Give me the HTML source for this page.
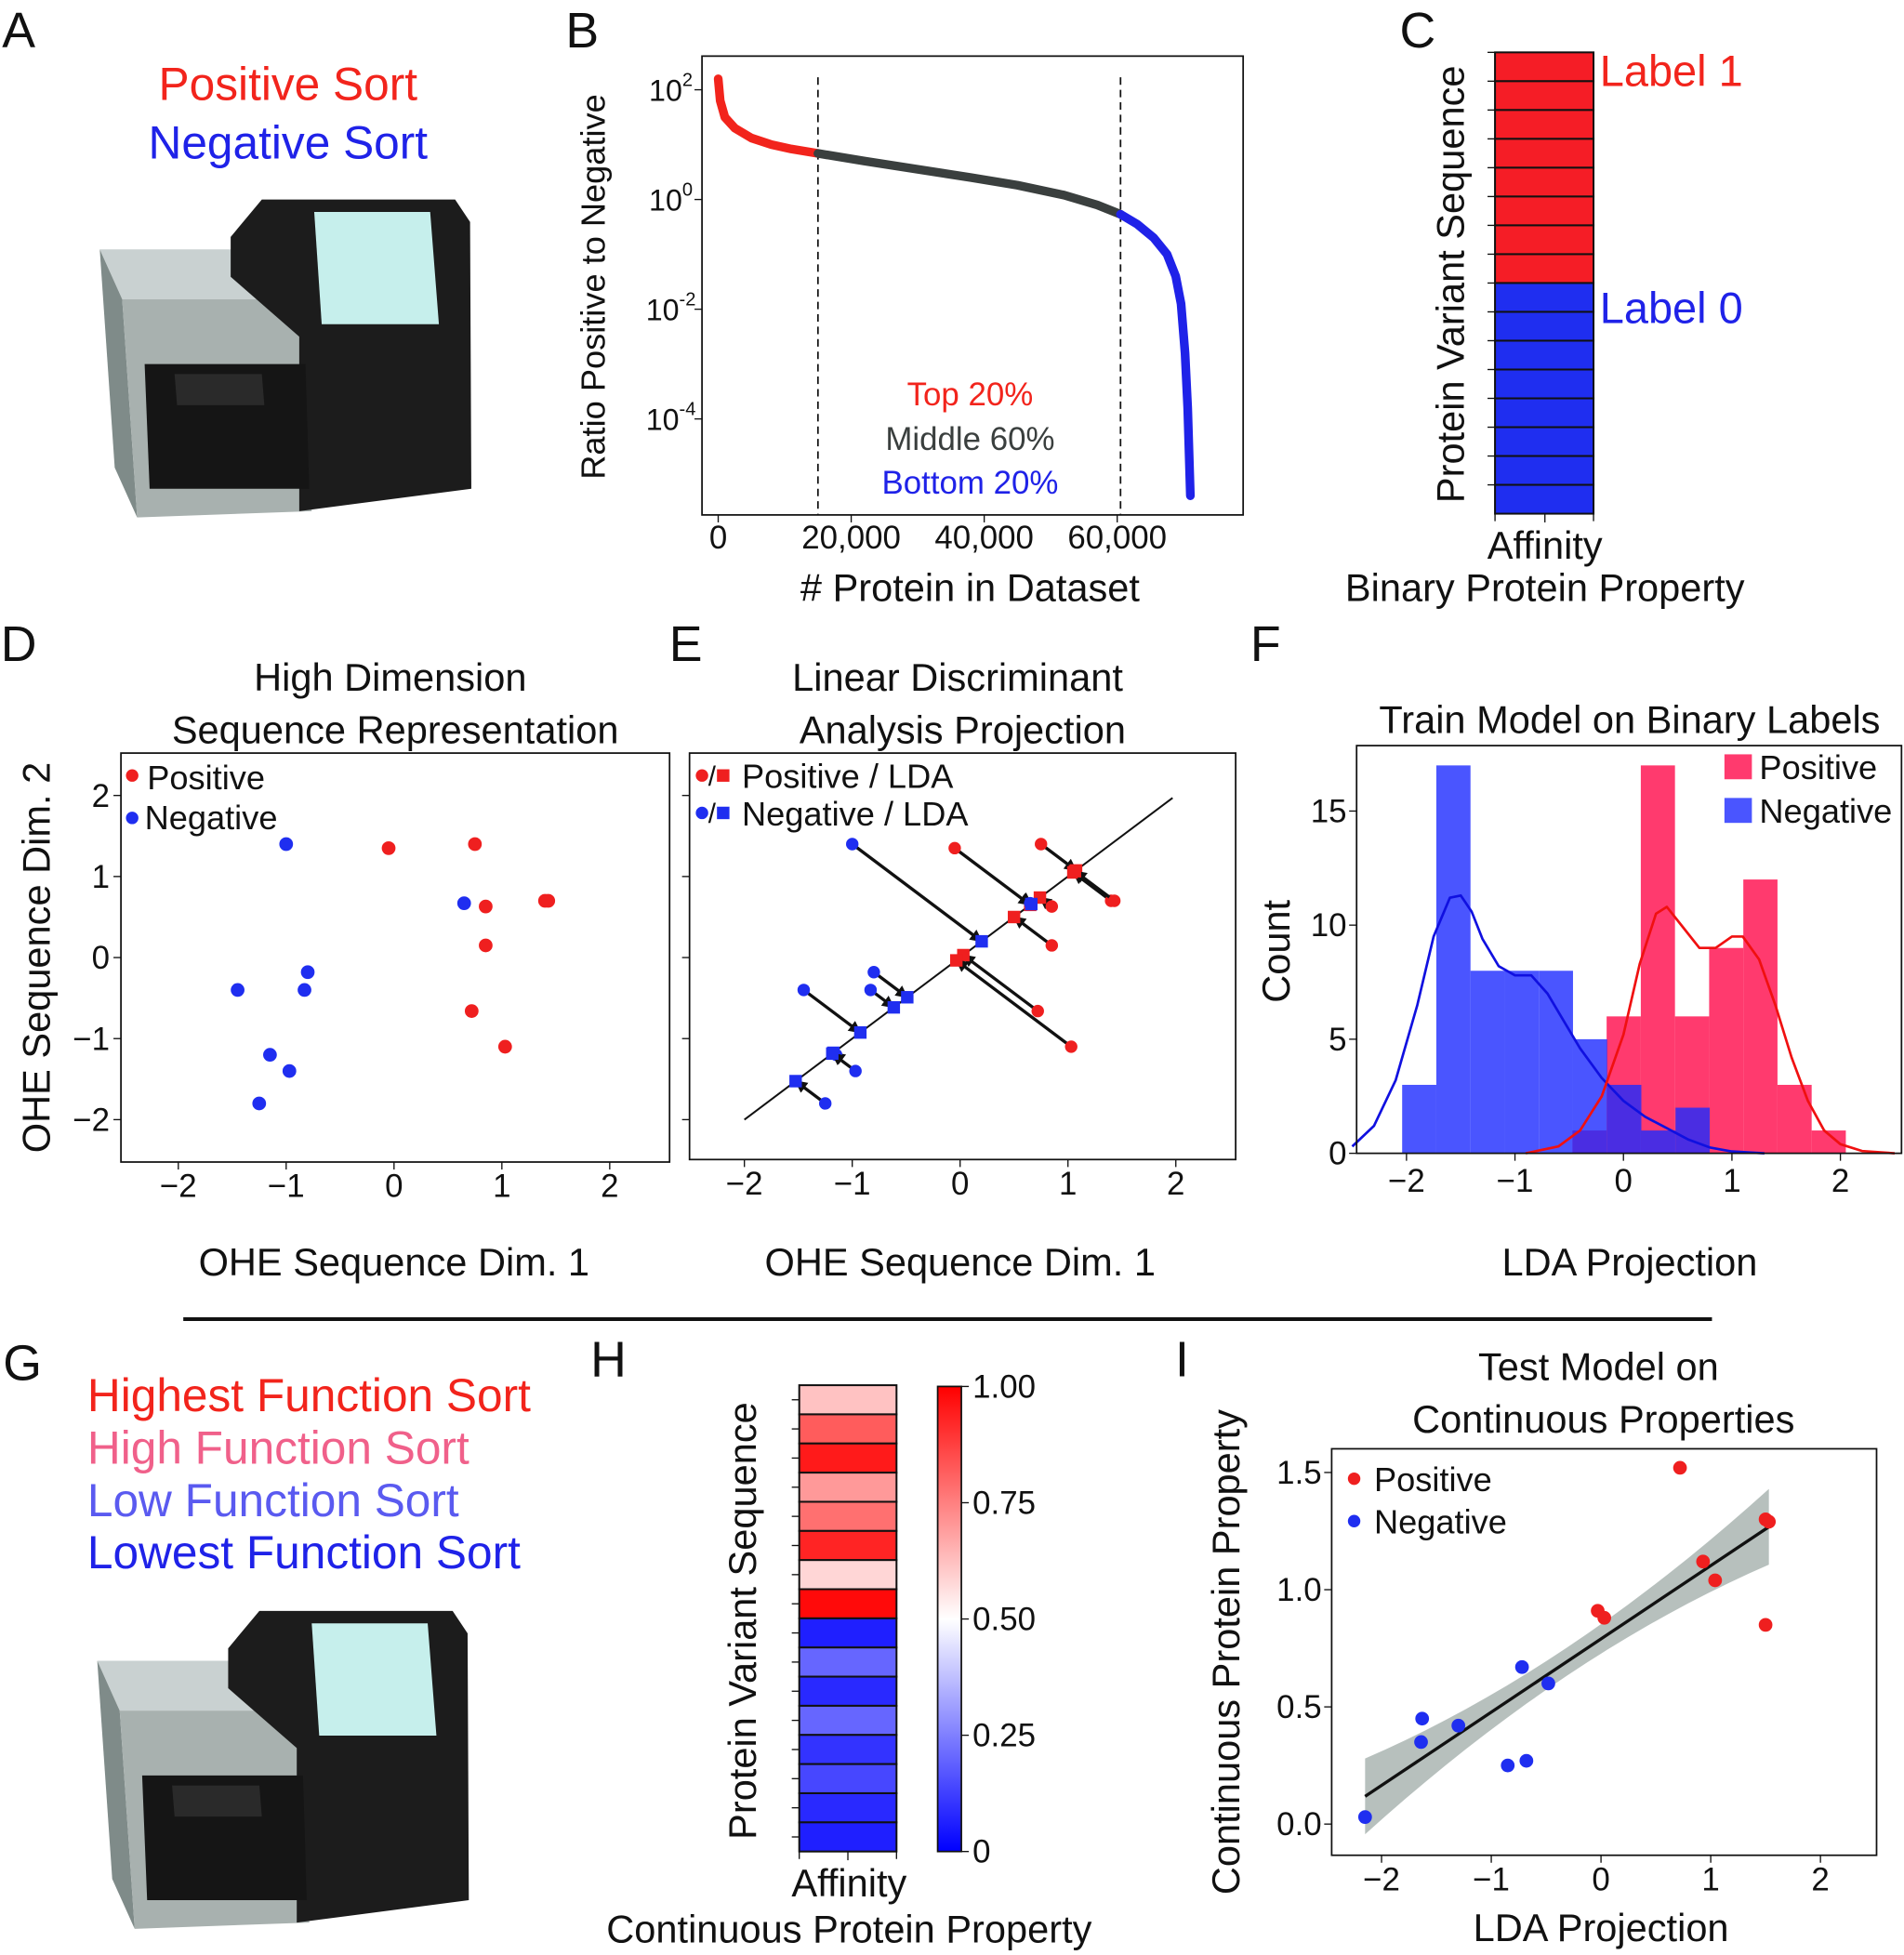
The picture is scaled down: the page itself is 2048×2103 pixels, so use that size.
<!DOCTYPE html>
<html><head><meta charset="utf-8"><style>
html,body{margin:0;padding:0;background:#fff;}
svg{display:block;}
text{font-family:"Liberation Sans Narrow","Liberation Sans",sans-serif;}
.wide{font-family:"Liberation Sans","DejaVu Sans",sans-serif;}
</style></head><body>
<svg id="fig" width="2048" height="2103" viewBox="0 0 1527 1568" preserveAspectRatio="none" xmlns="http://www.w3.org/2000/svg">
<g id="machineA"></g>
<g id="machineG"></g>
<g id="root"></g>
</svg>
<script>
// ---- Panel B data: rank vs log10 ratio ----
const bRank=[0,300,1000,2500,5000,8000,11000,15000,22000,30000,38000,45000,52000,57000,60500,63000,65500,67500,68800,69600,70200,70600,71000];
const bLog=[2.2,1.8,1.5,1.3,1.12,1.0,0.92,0.84,0.7,0.55,0.4,0.26,0.08,-0.1,-0.27,-0.45,-0.7,-1.0,-1.4,-1.9,-2.8,-3.8,-5.4];
const bTickX=[0,20000,40000,60000]; const bTickXLab=["0","20,000","40,000","60,000"];
const bTickY=[2,0,-2,-4];
const bCut=[15000,60500];
// ---- Panel C ----
const cLabels=[1,1,1,1,1,1,1,1,0,0,0,0,0,0,0,0];
// ---- Panel D/E points ----
const posX=[-0.05,0.75,0.85,1.4,1.43,0.85,0.72,1.03];
const posY=[1.35,1.4,0.63,0.7,0.7,0.15,-0.66,-1.1];
const negX=[-1.0,0.65,-0.8,-1.45,-0.83,-1.15,-0.97,-1.25];
const negY=[1.4,0.67,-0.18,-0.4,-0.4,-1.2,-1.4,-1.8];
const dTicks=[-2,-1,0,1,2];
// ---- Panel F histogram ----
const fBinW=0.315;
const negBinStart=-2.04; const negCounts=[3,17,8,8,8,5,3,1,2];
const posBinStart=-0.47; const posCounts=[1,6,17,6,9,12,3,1];
const negKdeX=[-2.5,-2.3,-2.1,-1.9,-1.75,-1.6,-1.5,-1.4,-1.3,-1.15,-1.0,-0.85,-0.7,-0.55,-0.4,-0.2,0,0.2,0.4,0.6,0.8,1.0,1.3];
const negKdeY=[0.3,1.2,3.2,6.5,9.5,11.2,11.3,10.6,9.4,8.2,7.8,7.8,7.0,5.8,4.6,3.3,2.3,1.6,1.1,0.6,0.25,0.08,0];
const posKdeX=[-0.9,-0.6,-0.4,-0.2,0,0.15,0.3,0.4,0.55,0.7,0.85,1.0,1.1,1.25,1.4,1.55,1.7,1.85,2.0,2.2,2.5];
const posKdeY=[0,0.3,1.0,2.5,5.2,8.3,10.5,10.8,9.9,9.0,9.0,9.5,9.5,8.5,6.5,4.2,2.3,1.0,0.4,0.1,0];
const fTicksY=[0,5,10,15];
// ---- Panel H heatmap ----
const hValues=[0.62,0.82,0.95,0.7,0.78,0.93,0.58,0.98,0.06,0.2,0.08,0.2,0.1,0.14,0.08,0.06];
const hTicks=[1,0.75,0.5,0.25,0]; const hTickLab=["1.00","0.75","0.50","0.25","0"];
// ---- Panel I ----
const iPosX=[0.72,1.5,1.53,0.93,1.04,-0.03,0.03,1.5];
const iPosY=[1.52,1.3,1.29,1.12,1.04,0.91,0.88,0.85];
const iNegX=[-0.72,-0.48,-1.63,-1.3,-1.64,-0.85,-0.68,-2.15];
const iNegY=[0.67,0.6,0.45,0.42,0.35,0.25,0.27,0.03];
const iFit=[0.3125,0.79]; const iXRange=[-2.15,1.53];
const iTicksY=[0,0.5,1,1.5]; const iTickYLab=["0.0","0.5","1.0","1.5"];

const NS="http://www.w3.org/2000/svg";
const root=document.getElementById('root');
function mk(tag,attrs,parent,txt){const e=document.createElementNS(NS,tag);for(const k in attrs)e.setAttribute(k,attrs[k]);if(txt!==undefined)e.textContent=txt;(parent||root).appendChild(e);return e;}
function lin(d0,d1,r0,r1){return v=>r0+(v-d0)*(r1-r0)/(d1-d0);}
function T(x,y,s,size,fill,anchor,cls,rot){const a={x:x,y:y,'font-size':size,fill:fill||'#111','text-anchor':anchor||'middle'};if(cls)a['class']=cls;if(rot)a.transform='rotate(-90 '+x+' '+y+')';return mk('text',a,root,s);}
function box(x0,y0,x1,y1){const r=mk('rect',{x:x0,y:y0,width:x1-x0,height:y1-y0,fill:'none',stroke:'#111','stroke-width':1.3});}

// panel letters
[["A",15,38],["B",467,38],["C",1137,38],["D",15,530],["E",550,530],["F",1015,530],["G",18,1107],["H",488,1104],["I",948,1104]].forEach(p=>{const t=T(p[1],p[2],p[0],40,'#111','middle');});

// machine
function machine(g,ox,oy){
 const P=(pts,fill)=>{const e=document.createElementNS(NS,'polygon');e.setAttribute('points',pts.map(p=>(p[0]+ox)+','+(p[1]+oy)).join(' '));e.setAttribute('fill',fill);g.appendChild(e);};
 P([[0,40],[150,40],[165,80],[18,80]],'#c9d1d1');
 P([[0,40],[18,80],[30,255],[12,215]],'#7f8b89');
 P([[18,80],[165,80],[170,250],[30,255]],'#a8b1af');
 P([[105,30],[130,0],[285,0],[297,18],[298,232],[160,250],[160,110],[105,62]],'#1c1c1c');
 P([[172,10],[265,10],[272,100],[178,100]],'#c6efec');
 P([[36,132],[165,132],[168,232],[40,232]],'#151515');
 P([[60,140],[130,140],[132,165],[62,165]],'#2a2a2a');
}
machine(document.getElementById('machineA'),80,160);
machine(document.getElementById('machineG'),78,1292);
let t;
t=T(231,80,"Positive Sort",37,'#f2241c');
t=T(231,127,"Negative Sort",37,'#1f22e8');

// ---- Panel B ----
const bx=lin(0,60000,576,896), by=lin(0,2,160,72);
box(563,45,997,413);
bTickX.forEach((v,i)=>{mk('line',{x1:bx(v),x2:bx(v),y1:413,y2:419,stroke:'#111'});t=T(bx(v),440,bTickXLab[i],26);});
bTickY.forEach(v=>{mk('line',{x1:557,x2:563,y1:by(v),y2:by(v),stroke:'#111'});const tt=mk('text',{x:538,y:by(v)+9,'font-size':24,'text-anchor':'middle',fill:'#111'},root,'10');const ts=mk('tspan',{dy:-12,'font-size':15},tt,String(v));});
bCut.forEach(v=>{const l=mk('line',{x1:bx(v),x2:bx(v),y1:62,y2:413,stroke:'#111','stroke-width':1.3,'stroke-dasharray':'6,4'});});
function seg(filter,col,name){const pts=[];bRank.forEach((r,i)=>{if(filter(r))pts.push(bx(r)+','+by(bLog[i]));});const p=mk('polyline',{points:pts.join(' '),fill:'none',stroke:col,'stroke-width':7,'stroke-linejoin':'round','stroke-linecap':'round'});}
seg(r=>r<=bCut[0],'#f2241c','b-top-segment');
seg(r=>r>=bCut[0]&&r<=bCut[1],'#3a3f3e','b-middle-segment');
seg(r=>r>=bCut[1],'#1f22e8','b-bottom-segment');
T(778,325,"Top 20%",26,'#f2241c');T(778,361,"Middle 60%",26,'#3a3f3e');T(778,396,"Bottom 20%",26,'#1f22e8');
t=T(485,230,"Ratio Positive to Negative",27,'#111','middle','wide',true);
t=T(778,482,"# Protein in Dataset",31);

// ---- Panel C ----
const cy0=42,cy1=412,rh=(cy1-cy0)/cLabels.length;
cLabels.forEach((v,i)=>{const r=mk('rect',{x:1199,y:cy0+i*rh,width:79,height:rh,fill:v?'#f51d26':'#1f2ef0',stroke:'#111','stroke-width':1.5});mk('line',{x1:1193,x2:1199,y1:cy0+i*rh,y2:cy0+i*rh,stroke:'#111'});});
mk('line',{x1:1199,x2:1199,y1:cy0,y2:cy1+6,stroke:'#111'});mk('line',{x1:1278,x2:1278,y1:cy0,y2:cy1+6,stroke:'#111'});mk('line',{x1:1239,x2:1239,y1:cy1,y2:cy1+7,stroke:'#111'});
T(1283,69,"Label 1",35,'#f2241c','start');T(1283,259,"Label 0",35,'#1f22e8','start');
t=T(1174,228,"Protein Variant Sequence",31,'#111','middle','wide',true);
T(1239,448,"Affinity",31);T(1239,482,"Binary Protein Property",31);

// ---- Panel D ----
const dx=lin(0,1,316,402.5), dy=lin(0,1,768,703);
box(97,604,537,932);
dTicks.forEach(v=>{mk('line',{x1:dx(v),x2:dx(v),y1:932,y2:938,stroke:'#111'});T(dx(v),960,String(v).replace('-','\u2212'),26);mk('line',{x1:91,x2:97,y1:dy(v),y2:dy(v),stroke:'#111'});T(88,dy(v)+9,String(v).replace('-','\u2212'),26,'#111','end');});
posX.forEach((v,i)=>{const c=mk('circle',{cx:dx(v),cy:dy(posY[i]),r:5.5,fill:'#ef1f1f'});});
negX.forEach((v,i)=>{const c=mk('circle',{cx:dx(v),cy:dy(negY[i]),r:5.5,fill:'#1f2ef0'});});
mk('circle',{cx:106,cy:622,r:5,fill:'#ef1f1f'});T(118,633,"Positive",27,'#111','start');
mk('circle',{cx:106,cy:656,r:5,fill:'#1f2ef0'});T(116,665,"Negative",27,'#111','start');
T(313,554,"High Dimension",31);T(317,596,"Sequence Representation",31);
t=T(40,768,"OHE Sequence Dim. 2",31,'#111','middle','wide',true);
T(316,1023,"OHE Sequence Dim. 1",31);

// ---- Panel E ----
const ex=lin(0,1,770,856.5), ey=lin(0,1,768,703);
box(553,604,991,930);
dTicks.forEach(v=>{mk('line',{x1:ex(v),x2:ex(v),y1:930,y2:936,stroke:'#111'});T(ex(v),958,String(v).replace('-','\u2212'),26);mk('line',{x1:547,x2:553,y1:ey(v),y2:ey(v),stroke:'#111'});});
mk('defs',{},root).innerHTML='<marker id="ah" viewBox="0 0 10 10" refX="9" refY="5" markerWidth="4" markerHeight="4" orient="auto"><path d="M0,0 L10,5 L0,10 z" fill="#111"/></marker>';
const ld=mk('line',{x1:ex(-2),y1:ey(-2),x2:ex(1.97),y2:ey(1.97),stroke:'#111','stroke-width':1.5});
function eSet(X,Y,col,nm){X.forEach((v,i)=>{const p=(v+Y[i])/2;const a=mk('line',{x1:ex(v),y1:ey(Y[i]),x2:ex(p),y2:ey(p),stroke:'#111','stroke-width':2.5,'marker-end':'url(#ah)'});const c=mk('circle',{cx:ex(v),cy:ey(Y[i]),r:5,fill:col});const s=mk('rect',{x:ex(p)-5,y:ey(p)-5,width:10,height:10,fill:col});});}
eSet(posX,posY,'#ef1f1f','positive');eSet(negX,negY,'#1f2ef0','negative');
mk('circle',{cx:563,cy:622,r:5,fill:'#ef1f1f'});T(568,630,"/",22,'#111','start');mk('rect',{x:575,y:617,width:10,height:10,fill:'#ef1f1f'});T(595,632,"Positive / LDA",27,'#111','start');
mk('circle',{cx:563,cy:652,r:5,fill:'#1f2ef0'});T(568,660,"/",22,'#111','start');mk('rect',{x:575,y:647,width:10,height:10,fill:'#1f2ef0'});T(595,662,"Negative / LDA",27,'#111','start');
T(768,554,"Linear Discriminant",31);T(772,596,"Analysis Projection",31);T(770,1023,"OHE Sequence Dim. 1",31);

// ---- Panel F ----
const fx=lin(0,1,1302,1389), fy=lin(0,1,925,906.7);
posCounts.forEach((c,i)=>{const x0=posBinStart+i*fBinW;const r=mk('rect',{x:fx(x0),y:fy(c),width:fx(x0+fBinW)-fx(x0),height:fy(0)-fy(c),fill:'rgb(255,9,74)','fill-opacity':0.8});});
negCounts.forEach((c,i)=>{const x0=negBinStart+i*fBinW;const r=mk('rect',{x:fx(x0),y:fy(c),width:fx(x0+fBinW)-fx(x0),height:fy(0)-fy(c),fill:'rgb(29,42,255)','fill-opacity':0.8});});
function curve(X,Y,col,nm){const p=mk('polyline',{points:X.map((v,i)=>fx(v)+','+fy(Y[i])).join(' '),fill:'none',stroke:col,'stroke-width':2,'stroke-linejoin':'round'});}
curve(negKdeX,negKdeY,'#1010e0','f-negative-kde');curve(posKdeX,posKdeY,'#f01010','f-positive-kde');
box(1088,598,1525,925);
dTicks.forEach(v=>{mk('line',{x1:fx(v),x2:fx(v),y1:925,y2:931,stroke:'#111'});T(fx(v),956,String(v).replace('-','\u2212'),26);});
fTicksY.forEach(v=>{mk('line',{x1:1082,x2:1088,y1:fy(v),y2:fy(v),stroke:'#111'});T(1080,fy(v)+9,String(v),26,'#111','end');});
mk('rect',{x:1383,y:605,width:22,height:20,fill:'rgb(255,9,74)','fill-opacity':0.8});T(1411,625,"Positive",27,'#111','start');
mk('rect',{x:1383,y:640,width:22,height:20,fill:'rgb(29,42,255)','fill-opacity':0.8});T(1411,660,"Negative",27,'#111','start');
T(1307,588,"Train Model on Binary Labels",31);
t=T(1034,763,"Count",31,'#111','middle','wide',true);
T(1307,1023,"LDA Projection",31);

// separator
mk('line',{x1:147,x2:1373,y1:1058,y2:1058,stroke:'#111','stroke-width':3});

// ---- Panel G ----
T(70,1132,"Highest Function Sort",37,'#f2241c','start');T(70,1174,"High Function Sort",37,'#f0608a','start');T(70,1216,"Low Function Sort",37,'#5a5af0','start');T(70,1258,"Lowest Function Sort",37,'#1f22e8','start');

// ---- Panel H ----
function bwr(v){let r,g,b;if(v<0.5){const k=v/0.5;r=255*k;g=255*k;b=255;}else{const k=(v-0.5)/0.5;r=255;g=255*(1-k);b=255*(1-k);}return 'rgb('+Math.round(r)+','+Math.round(g)+','+Math.round(b)+')';}
const hy0=1111,hy1=1485,hh=(hy1-hy0)/hValues.length;
hValues.forEach((v,i)=>{const r=mk('rect',{x:641,y:hy0+i*hh,width:78,height:hh,fill:bwr(v),stroke:'#111','stroke-width':1.5});mk('line',{x1:635,x2:641,y1:hy0+i*hh+hh/2,y2:hy0+i*hh+hh/2,stroke:'#111'});});
mk('line',{x1:641,x2:641,y1:hy0,y2:hy1+6,stroke:'#111'});mk('line',{x1:719,x2:719,y1:hy0,y2:hy1+6,stroke:'#111'});mk('line',{x1:680,x2:680,y1:hy1,y2:hy1+7,stroke:'#111'});
const gd=mk('defs',{},root);gd.innerHTML='<linearGradient id="cb" x1="0" y1="1" x2="0" y2="0"><stop offset="0" stop-color="rgb(0,0,255)"/><stop offset="0.5" stop-color="#fff"/><stop offset="1" stop-color="rgb(255,0,0)"/></linearGradient>';
const hcy=lin(0,1,1485,1112);
const cb=mk('rect',{x:752,y:1112,width:19,height:373,fill:'url(#cb)',stroke:'#111','stroke-width':1.3});
hTicks.forEach((v,i)=>{mk('line',{x1:771,x2:777,y1:hcy(v),y2:hcy(v),stroke:'#111'});T(780,hcy(v)+9,hTickLab[i],26,'#111','start');});
t=T(606,1300,"Protein Variant Sequence",31,'#111','middle','wide',true);
T(681,1521,"Affinity",31);T(681,1558,"Continuous Protein Property",31);

// ---- Panel I ----
const ix=lin(0,1,1284,1372), iy=lin(0,1,1463,1275);
let up=[],dn=[];
for(let k=0;k<=20;k++){const x=iXRange[0]+(iXRange[1]-iXRange[0])*k/20;const m=iFit[0]*x+iFit[1];const w=0.06+0.03*(x+0.31)*(x+0.31);up.push(ix(x)+','+iy(m+w));dn.unshift(ix(x)+','+iy(m-w));}
const band=mk('polygon',{points:up.concat(dn).join(' '),fill:'#b7c0bd'});
const fl=mk('line',{x1:ix(iXRange[0]),y1:iy(iFit[0]*iXRange[0]+iFit[1]),x2:ix(iXRange[1]),y2:iy(iFit[0]*iXRange[1]+iFit[1]),stroke:'#111','stroke-width':2.5});
iPosX.forEach((v,i)=>{const c=mk('circle',{cx:ix(v),cy:iy(iPosY[i]),r:5.5,fill:'#ef1f1f'});});
iNegX.forEach((v,i)=>{const c=mk('circle',{cx:ix(v),cy:iy(iNegY[i]),r:5.5,fill:'#1f2ef0'});});
box(1068,1162,1505,1488);
dTicks.forEach(v=>{mk('line',{x1:ix(v),x2:ix(v),y1:1488,y2:1494,stroke:'#111'});T(ix(v),1516,String(v).replace('-','\u2212'),26);});
iTicksY.forEach((v,i)=>{mk('line',{x1:1062,x2:1068,y1:iy(v),y2:iy(v),stroke:'#111'});T(1060,iy(v)+9,iTickYLab[i],26,'#111','end');});
mk('circle',{cx:1086,cy:1186,r:5,fill:'#ef1f1f'});T(1102,1196,"Positive",27,'#111','start');
mk('circle',{cx:1086,cy:1220,r:5,fill:'#1f2ef0'});T(1102,1230,"Negative",27,'#111','start');
T(1282,1107,"Test Model on",31);T(1286,1149,"Continuous Properties",31);
t=T(994,1325,"Continuous Protein Property",31,'#111','middle','wide',true);
T(1284,1557,"LDA Projection",31);
</script>
</body></html>
